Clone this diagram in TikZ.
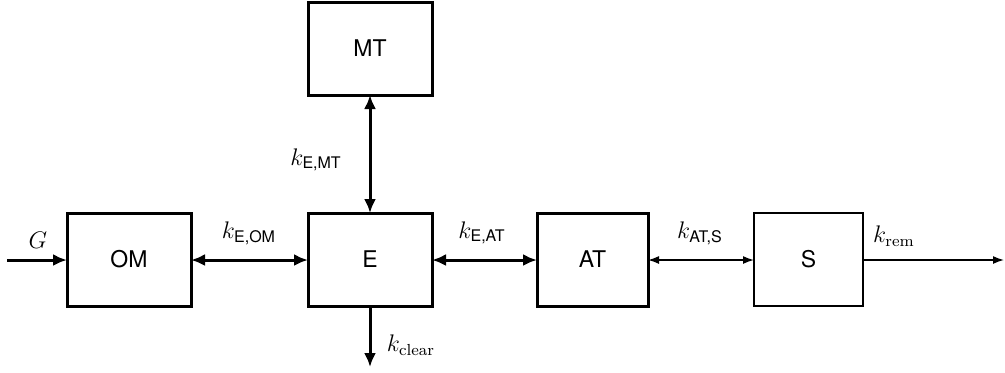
\documentclass[tikz,border=0pt]{standalone}
\usepackage{amsmath}
\usepackage{fontspec}
\setsansfont{TeX Gyre Heros}
\usetikzlibrary{arrows.meta}
\begin{document}
\begin{tikzpicture}[x=0.5pt,y=-0.5pt,
  font=\fontsize{12}{14}\selectfont,
  thickbox/.style={draw,line width=1.5pt,font=\fontsize{11.5}{14}\sffamily\selectfont},
  thinbox/.style={draw,line width=0.75pt,font=\fontsize{11.5}{14}\sffamily\selectfont},
  thickarr/.style={line width=1.5pt,-{Latex[length=7pt,width=6pt]}},
  thickbi/.style={line width=1.5pt,{Latex[length=7pt,width=6pt]}-{Latex[length=7pt,width=6pt]}},
  thinarr/.style={line width=0.75pt,-{Latex[length=5.5pt,width=4pt]}},
  thinbi/.style={line width=0.75pt,{Latex[length=5.5pt,width=4pt]}-{Latex[length=5.5pt,width=4pt]}},
  lab/.style={inner sep=0pt}]
\useasboundingbox (0,0) rectangle (1005,372);
\path[thickbox] (67,213) rectangle (191,306) node[midway,draw=none] (OMt) {OM};
\path[thickbox] (308,213) rectangle (432,306) node[midway,draw=none] (Et) {E};
\path[thickbox] (308,2) rectangle (432,95) node[midway,draw=none] (MTt) {MT};
\path[thickbox] (537,213) rectangle (648,306) node[midway,draw=none] (ATt) {AT};
\path[thinbox] (754,213) rectangle (863,306) node[midway,draw=none] (St) {S};
\coordinate (OMw) at (67,260); \coordinate (OMe) at (191,260);
\coordinate (Ew) at (308,260); \coordinate (Ee) at (432,260);
\coordinate (En) at (370,213); \coordinate (Es) at (370,306);
\coordinate (MTs) at (370,95);
\coordinate (ATw) at (537,260); \coordinate (ATe) at (648,260);
\coordinate (Sw) at (754,260); \coordinate (Se) at (863,260);
\coordinate (in) at (7,260); \coordinate (out) at (1004,260);
\coordinate (clear) at (370,367);
\draw[thickarr] (in) -- (OMw);
\draw[thickbi] (OMe) -- (Ew);
\draw[thickbi] (MTs) -- (En);
\draw[thickarr] (Es) -- (clear);
\draw[thickbi] (Ee) -- (ATw);
\draw[thinbi] (ATe) -- (Sw);
\draw[thinarr] (Se) -- (out);
\node[lab] (lG) at (38,240) {$G$};
\node[lab] (lEOM) at (249,233) {$k_{\textsf{E,OM}}$};
\node[lab] (lEMT) at (316,160) {$k_{\textsf{E,MT}}$};
\node[lab] (lclr) at (411,345) {$k_{\mathrm{clear}}$};
\node[lab] (lEAT) at (482,233) {$k_{\textsf{E,AT}}$};
\node[lab] (lATS) at (700,233) {$k_{\textsf{AT,S}}$};
\node[lab] (lrem) at (894,236) {$k_{\mathrm{rem}}$};
\end{tikzpicture}
\end{document}
